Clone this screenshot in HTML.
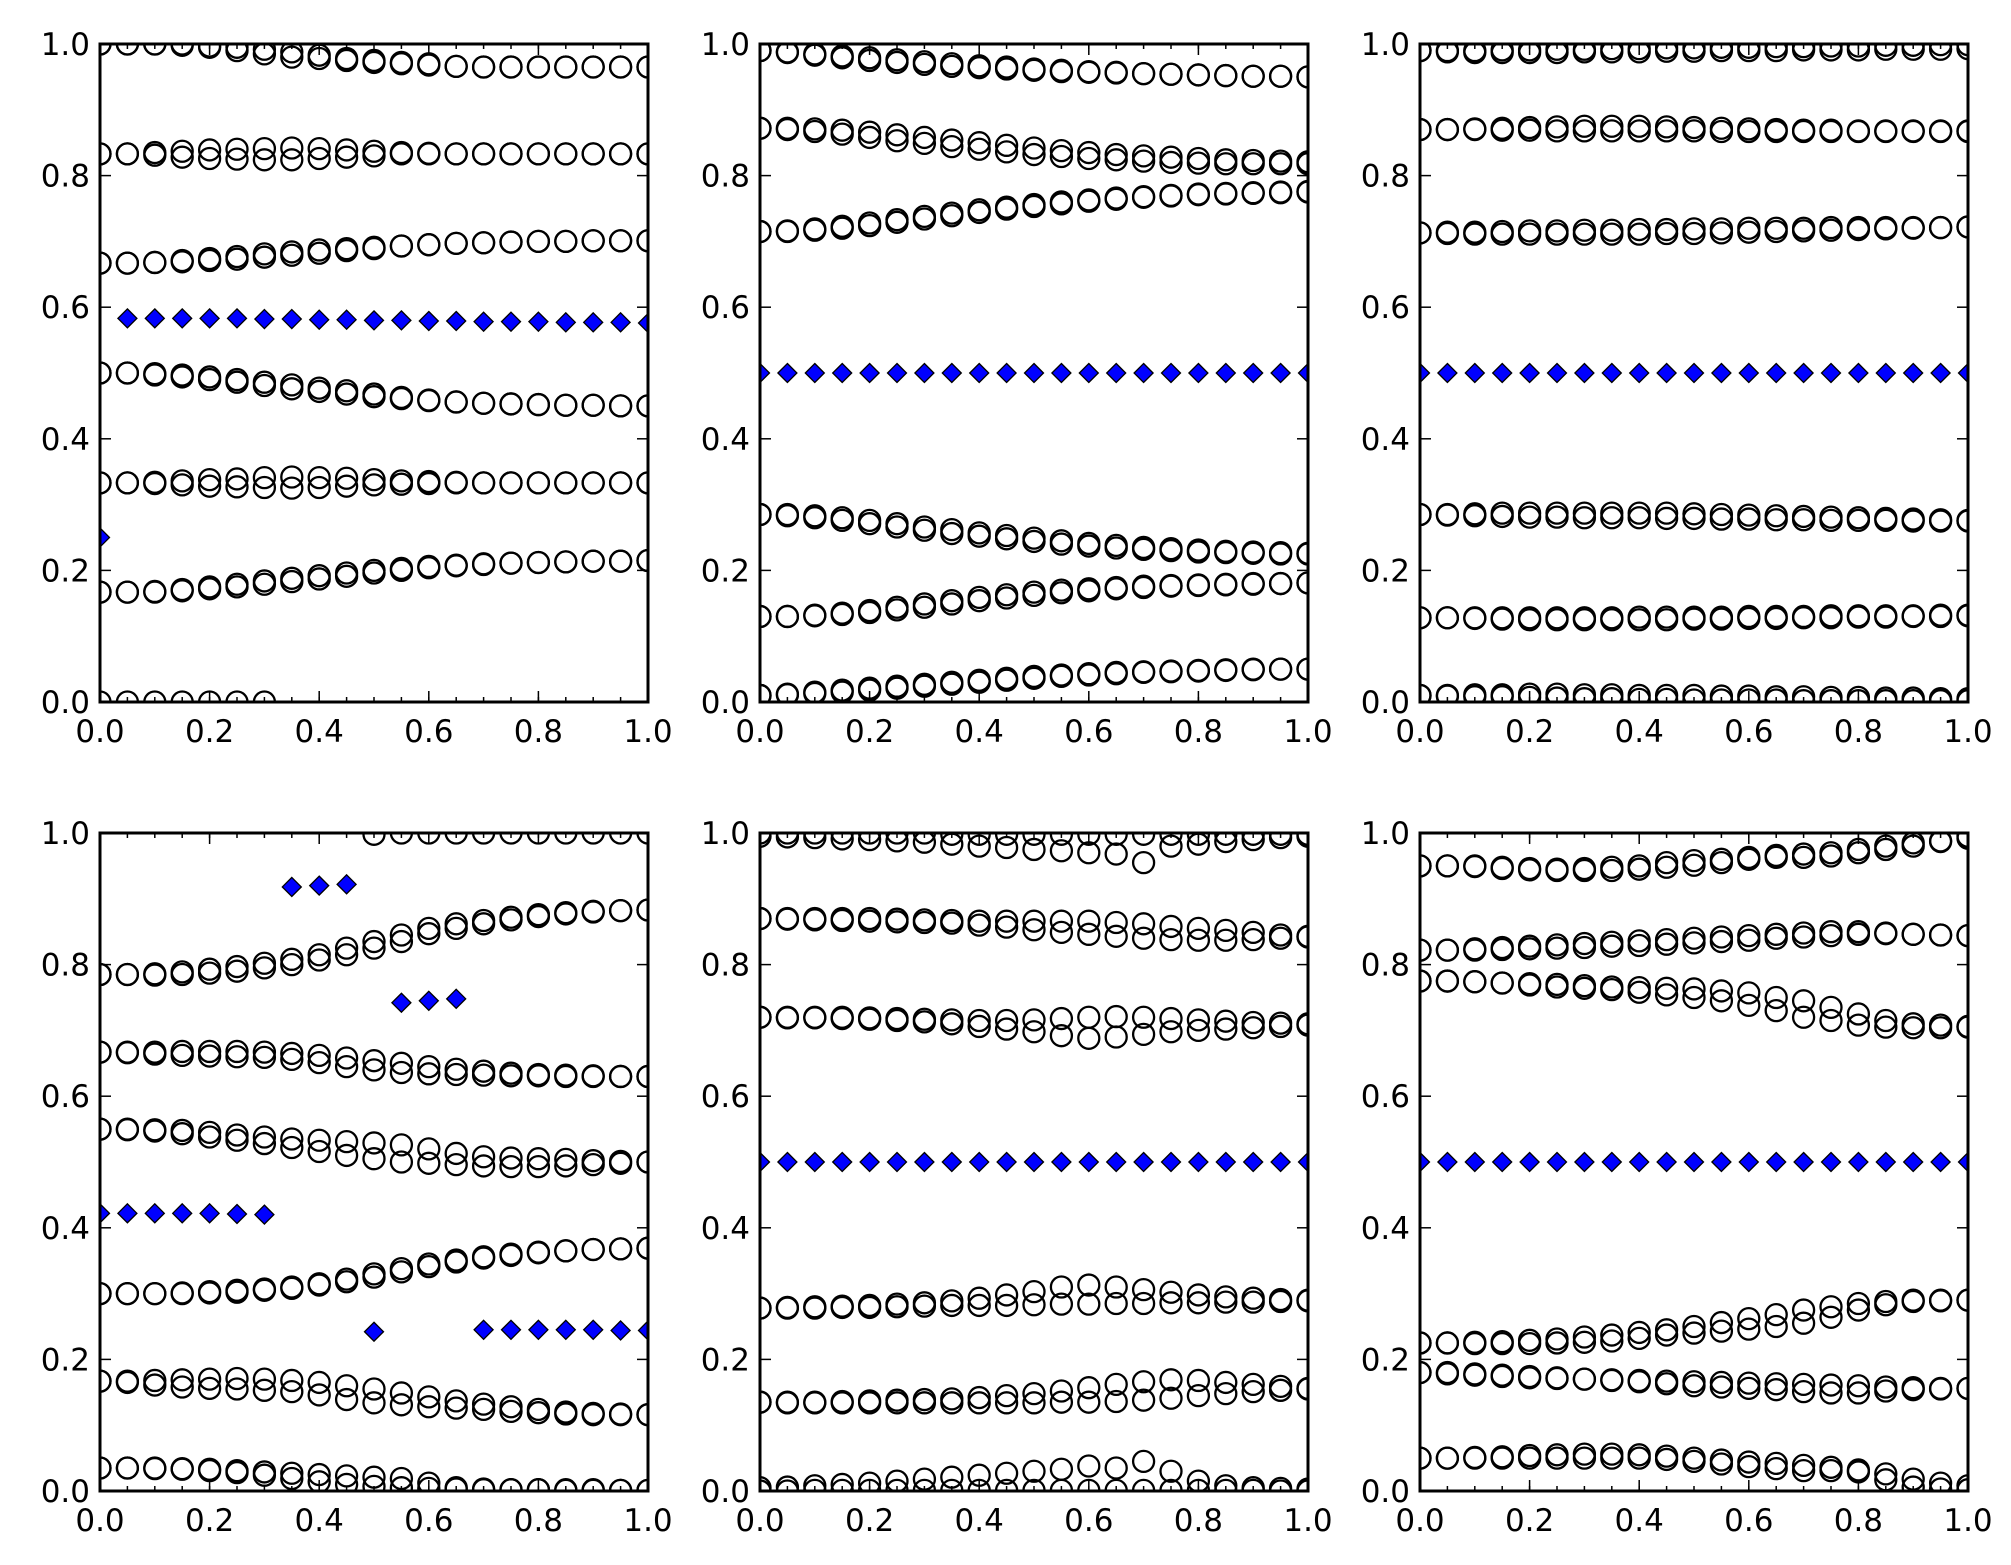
<!DOCTYPE html>
<html><head><meta charset="utf-8"><style>
html,body{margin:0;padding:0;background:#fff}
svg{display:block}
text{font-family:"DejaVu Sans","Liberation Sans",sans-serif;font-size:31px;fill:#000}
</style></head>
<body>
<svg id="fig" width="2011" height="1565" viewBox="0 0 2011 1565" xmlns="http://www.w3.org/2000/svg"></svg>
<script>
const xValues = [0,0.05,0.1,0.15,0.2,0.25,0.3,0.35,0.4,0.45,0.5,0.55,0.6,0.65,0.7,0.75,0.8,0.85,0.9,0.95,1.0];
const tickLabels = ["0.0","0.2","0.4","0.6","0.8","1.0"];
const tickValues = [0,0.2,0.4,0.6,0.8,1.0];
const N = null;

const p1Circles = [
 [1.0,1.0,1.0,.998,.995,.99,.985,.98,.978,.975,.972,.97,.968,.966,.965,.965,.965,.965,.965,.965,.965],
 [1.0,1.0,1.0,1.0,.997,.995,.992,.988,.983,.978,.975,.972,.97,.966,.965,.965,.965,.965,.965,.965,.965],
 [.833,.833,.835,.837,.839,.84,.841,.842,.841,.839,.837,.835,.834,.833,.833,.833,.833,.833,.833,.833,.833],
 [.833,.833,.831,.828,.826,.825,.824,.824,.826,.828,.83,.833,.833,.833,.833,.833,.833,.833,.833,.833,.833],
 [.667,.667,.668,.671,.674,.677,.681,.684,.687,.689,.691,.693,.695,.697,.698,.699,.7,.7,.701,.701,.701],
 [.667,.667,.668,.669,.671,.673,.676,.679,.682,.686,.689,.693,.695,.697,.698,.699,.7,.7,.701,.701,.701],
 [.5,.5,.499,.497,.494,.49,.486,.482,.477,.473,.468,.463,.459,.456,.454,.453,.452,.451,.451,.45,.45],
 [.5,.5,.497,.494,.49,.486,.481,.476,.472,.468,.464,.461,.458,.456,.454,.453,.452,.451,.451,.45,.45],
 [.333,.333,.334,.336,.338,.339,.341,.342,.341,.34,.338,.336,.335,.334,.333,.333,.333,.333,.333,.333,.333],
 [.333,.333,.332,.33,.328,.327,.326,.325,.326,.328,.33,.331,.332,.333,.333,.333,.333,.333,.333,.333,.333],
 [.167,.167,.168,.171,.175,.179,.184,.188,.192,.196,.2,.203,.206,.208,.21,.211,.212,.213,.214,.214,.215],
 [.167,.167,.167,.169,.172,.175,.179,.183,.187,.191,.196,.2,.204,.207,.209,.211,.212,.213,.214,.214,.215],
 [0,0,0,0,0,0,0,N,N,N,N,N,N,N,N,N,N,N,N,N,N]
];
const p1Diamonds = [.25,.583,.583,.583,.583,.583,.582,.582,.581,.581,.580,.580,.579,.579,.578,.578,.578,.577,.577,.577,.576];

const p2Circles = [
 [.99,.988,.985,.982,.979,.976,.973,.97,.967,.965,.962,.96,.958,.957,.955,.954,.953,.952,.951,.951,.95],
 [.99,.987,.983,.979,.975,.972,.969,.966,.964,.962,.96,.958,.957,.956,.955,.954,.953,.952,.951,.951,.95],
 [.872,.872,.871,.869,.866,.862,.858,.854,.85,.846,.842,.838,.835,.832,.83,.828,.826,.824,.823,.822,.821],
 [.872,.87,.867,.863,.858,.853,.849,.844,.84,.836,.832,.829,.826,.824,.822,.82,.819,.818,.818,.818,.818],
 [.715,.716,.719,.723,.728,.733,.738,.743,.748,.752,.756,.76,.763,.766,.768,.77,.772,.773,.774,.775,.776],
 [.715,.715,.717,.72,.724,.729,.734,.739,.744,.749,.753,.757,.761,.764,.767,.769,.771,.772,.773,.774,.775],
 [.285,.285,.283,.28,.276,.271,.266,.262,.257,.253,.249,.245,.241,.238,.235,.233,.231,.229,.228,.227,.226],
 [.285,.283,.28,.276,.271,.266,.261,.256,.252,.248,.244,.24,.237,.234,.232,.23,.228,.227,.226,.225,.225],
 [.13,.13,.132,.135,.139,.144,.149,.154,.159,.163,.167,.17,.172,.174,.176,.177,.178,.179,.18,.18,.181],
 [.13,.13,.131,.133,.136,.14,.144,.149,.154,.158,.162,.166,.169,.172,.174,.176,.177,.178,.179,.18,.181],
 [.01,.012,.015,.018,.021,.024,.027,.03,.033,.036,.039,.041,.043,.045,.046,.047,.048,.049,.05,.05,.05],
 [.01,.011,.013,.015,.018,.021,.024,.027,.03,.033,.036,.039,.041,.043,.045,.046,.047,.048,.049,.05,.05]
];
const p2Diamonds = [.5,.5,.5,.5,.5,.5,.5,.5,.5,.5,.5,.5,.5,.5,.5,.5,.5,.5,.5,.5,.5];

const p3Circles = [
 [.99,.99,.99,.991,.991,.992,.992,.993,.993,.994,.994,.995,.995,.996,.996,.997,.997,.998,.998,.999,.999],
 [.99,.988,.987,.987,.987,.987,.988,.988,.988,.989,.989,.99,.99,.99,.991,.991,.991,.992,.992,.992,.993],
 [.87,.87,.871,.872,.873,.874,.875,.875,.875,.874,.873,.872,.871,.87,.869,.869,.868,.868,.868,.868,.868],
 [.87,.87,.87,.869,.869,.868,.868,.868,.868,.868,.868,.867,.867,.867,.867,.867,.867,.867,.867,.867,.867],
 [.713,.714,.714,.715,.716,.716,.717,.717,.718,.718,.719,.719,.72,.72,.72,.721,.721,.721,.721,.721,.722],
 [.713,.712,.711,.711,.711,.711,.711,.711,.711,.712,.712,.713,.714,.715,.716,.717,.718,.719,.72,.721,.722],
 [.285,.285,.286,.287,.287,.287,.287,.287,.287,.287,.286,.285,.284,.283,.282,.281,.28,.279,.278,.277,.276],
 [.285,.284,.283,.282,.281,.281,.28,.28,.28,.279,.279,.278,.278,.277,.277,.276,.276,.276,.275,.275,.275],
 [.128,.128,.127,.126,.125,.125,.125,.125,.125,.125,.126,.126,.127,.127,.128,.128,.129,.129,.13,.13,.131],
 [.128,.128,.128,.128,.128,.128,.128,.128,.129,.129,.129,.129,.13,.13,.13,.131,.131,.131,.131,.132,.132],
 [.01,.01,.011,.011,.012,.012,.011,.011,.01,.01,.01,.009,.009,.008,.008,.007,.007,.006,.006,.005,.005],
 [.01,.009,.008,.008,.007,.006,.005,.005,.004,.004,.003,.003,.003,.003,.002,.002,.002,.002,.002,.002,.002]
];
const p3Diamonds = [.5,.5,.5,.5,.5,.5,.5,.5,.5,.5,.5,.5,.5,.5,.5,.5,.5,.5,.5,.5,.5];

const p4Circles = [
 [N,N,N,N,N,N,N,N,N,N,.998,1,1,1,1,1,1,1,1,1,1],
 [.785,.785,.786,.789,.793,.797,.802,.808,.815,.825,.835,.845,.855,.862,.867,.872,.876,.879,.881,.882,.883],
 [.785,.785,.784,.785,.787,.79,.795,.8,.807,.815,.825,.835,.847,.855,.862,.868,.873,.877,.88,.882,.883],
 [.667,.667,.667,.668,.668,.668,.667,.665,.662,.658,.654,.65,.645,.641,.638,.635,.633,.632,.631,.63,.63],
 [.667,.666,.664,.662,.661,.66,.659,.656,.651,.645,.64,.636,.634,.633,.632,.631,.631,.63,.63,.63,.63],
 [.55,.55,.549,.548,.545,.541,.538,.535,.533,.531,.529,.526,.52,.513,.508,.506,.505,.504,.502,.501,.5],
 [.55,.549,.547,.543,.538,.533,.528,.522,.516,.51,.505,.5,.498,.496,.494,.493,.493,.494,.496,.498,.5],
 [.3,.3,.3,.301,.303,.305,.307,.31,.315,.322,.33,.338,.345,.351,.356,.36,.363,.365,.367,.368,.369],
 [.3,.3,.3,.3,.301,.302,.305,.308,.313,.318,.325,.333,.341,.348,.354,.358,.362,.365,.367,.368,.369],
 [.167,.167,.168,.169,.17,.171,.17,.168,.165,.16,.155,.149,.143,.137,.132,.128,.124,.12,.118,.117,.116],
 [.167,.165,.161,.158,.156,.155,.153,.151,.146,.139,.134,.131,.128,.126,.124,.121,.119,.117,.116,.116,.116],
 [.035,.035,.035,.034,.033,.031,.029,.027,.025,.023,.021,.019,.012,.005,.003,.002,.002,.002,.002,.001,.001],
 [.035,.035,.034,.033,.031,.028,.024,.019,.014,.01,.007,.005,.004,.003,.002,.002,.002,.001,.001,.001,.001]
];
const p4Diamonds = [.422,.422,.422,.422,.422,.421,.42,.918,.92,.922,.242,.742,.745,.748,.245,.245,.245,.245,.245,.244,.244];

const p5Circles = [
 [1,1,1,1,1,1,1,.998,.998,.998,.998,.998,.998,.998,.998,.998,.998,.998,.998,.998,.998],
 [.995,.994,.993,.991,.99,.988,.986,.983,.98,.978,.975,.973,.97,.968,.955,.98,.983,.987,.99,.993,.995],
 [.87,.87,.87,.87,.87,.869,.868,.867,.866,.866,.866,.866,.866,.864,.862,.858,.855,.852,.849,.845,.843],
 [.87,.869,.868,.867,.866,.865,.864,.863,.86,.857,.853,.849,.846,.843,.84,.838,.837,.837,.838,.84,.842],
 [.72,.72,.72,.72,.719,.718,.717,.716,.715,.715,.716,.718,.72,.721,.72,.718,.716,.714,.712,.711,.71],
 [.72,.719,.719,.718,.717,.715,.713,.71,.706,.702,.698,.692,.688,.69,.694,.698,.7,.702,.704,.706,.708],
 [.278,.279,.28,.281,.282,.284,.286,.289,.293,.298,.303,.31,.313,.31,.306,.302,.298,.295,.293,.291,.29],
 [.278,.278,.278,.279,.279,.28,.281,.282,.282,.282,.283,.284,.284,.285,.285,.286,.286,.287,.287,.288,.289],
 [.135,.135,.135,.136,.137,.138,.139,.14,.142,.145,.148,.152,.157,.162,.166,.169,.168,.165,.162,.159,.156],
 [.135,.134,.134,.134,.134,.134,.134,.134,.134,.134,.134,.135,.135,.136,.138,.141,.145,.148,.151,.153,.155],
 [.005,.006,.008,.01,.012,.015,.018,.021,.024,.027,.03,.033,.038,.035,.045,.03,.015,.008,.005,.004,.003],
 [0,0,.001,.001,.001,.001,.001,.001,.001,.001,.001,.001,.001,.001,.001,.001,.001,.001,.001,0,0]
];
const p5Diamonds = [.5,.5,.5,.5,.5,.5,.5,.5,.5,.5,.5,.5,.5,.5,.5,.5,.5,.5,.5,.5,.5];

const p6Circles = [
 [.95,.95,.95,.948,.946,.945,.946,.948,.95,.955,.958,.96,.963,.966,.968,.97,.975,.98,.985,.988,.995],
 [.95,.95,.949,.946,.944,.943,.943,.943,.945,.948,.951,.955,.96,.963,.963,.965,.97,.975,.98,.987,.992],
 [.822,.822,.824,.826,.828,.83,.832,.834,.836,.838,.84,.842,.844,.846,.848,.85,.85,.848,.846,.845,.844],
 [.822,.822,.822,.823,.824,.825,.826,.828,.829,.831,.833,.835,.837,.84,.842,.844,.846,.847,.846,.845,.844],
 [.775,.775,.774,.772,.771,.77,.768,.766,.765,.764,.763,.76,.757,.75,.745,.735,.725,.715,.71,.708,.706],
 [.775,.775,.774,.772,.769,.766,.764,.762,.758,.754,.75,.745,.738,.73,.72,.715,.708,.705,.704,.704,.705],
 [.225,.225,.226,.227,.229,.231,.234,.237,.241,.245,.25,.256,.262,.268,.275,.28,.285,.288,.29,.29,.29],
 [.225,.225,.224,.224,.224,.225,.226,.228,.232,.237,.24,.243,.246,.25,.255,.264,.275,.283,.288,.289,.29],
 [.18,.18,.178,.176,.174,.172,.17,.169,.168,.167,.166,.165,.164,.163,.162,.161,.16,.158,.157,.156,.156],
 [.18,.178,.176,.174,.172,.171,.17,.168,.166,.163,.16,.158,.156,.154,.151,.149,.149,.152,.154,.155,.156],
 [.05,.05,.051,.052,.054,.055,.056,.056,.055,.053,.05,.047,.044,.042,.039,.036,.032,.026,.018,.012,.008],
 [.05,.05,.05,.05,.05,.05,.05,.05,.05,.048,.045,.041,.037,.034,.031,.031,.029,.017,.006,.003,.002]
];
const p6Diamonds = [.5,.5,.5,.5,.5,.5,.5,.5,.5,.5,.5,.5,.5,.5,.5,.5,.5,.5,.5,.5,.5];

const panelCircles = [p1Circles,p2Circles,p3Circles,p4Circles,p5Circles,p6Circles];
const panelDiamonds = [p1Diamonds,p2Diamonds,p3Diamonds,p4Diamonds,p5Diamonds,p6Diamonds];

const NS = "http://www.w3.org/2000/svg";
const fig = document.getElementById('fig');
const colL = [100, 760, 1420], rowT = [44, 833], PW = 548, PH = 658;

function mk(tag, attrs, parent){
  const e = document.createElementNS(NS, tag);
  for (const k in attrs) e.setAttribute(k, attrs[k]);
  parent.appendChild(e);
  return e;
}

for (let p = 0; p < 6; p++) {
  const L = colL[p % 3], T = rowT[Math.floor(p / 3)];
  const sx = v => L + v * PW;
  const sy = v => T + PH - v * PH;
  const g = mk('g', {}, fig);
  
  
  const clipId = 'clip' + p;
  const cp = mk('clipPath', {id: clipId}, g);
  mk('rect', {x: L, y: T, width: PW, height: PH}, cp);
  const marks = mk('g', {'clip-path': 'url(#' + clipId + ')'}, g);
  
  
  panelCircles[p].forEach((ser, si) => {
    ser.forEach((v, i) => {
      if (v === null) return;
      const c = mk('circle', {cx: sx(xValues[i]), cy: sy(v), r: 10.5, fill: 'none', stroke: '#000', 'stroke-width': 2.3}, marks);
      
      
    });
  });
  panelDiamonds[p].forEach((v, i) => {
    if (v === null) return;
    const x = sx(xValues[i]), y = sy(v), d = 9.5;
    const m = mk('polygon', {points: `${x},${y-d} ${x+d},${y} ${x},${y+d} ${x-d},${y}`, fill: '#0000ff', stroke: '#000', 'stroke-width': 1.3}, marks);
    
    
  });
  const tk = mk('g', {stroke: '#000', 'stroke-width': 1.5}, g);
  
  
  tickValues.forEach(v => {
    mk('line', {x1: sx(v), y1: T + PH, x2: sx(v), y2: T + PH - 11}, tk);
    mk('line', {x1: sx(v), y1: T, x2: sx(v), y2: T + 11}, tk);
    mk('line', {x1: L, y1: sy(v), x2: L + 11, y2: sy(v)}, tk);
    mk('line', {x1: L + PW, y1: sy(v), x2: L + PW - 11, y2: sy(v)}, tk);
  });
  xValues.forEach(v => {
    mk('line', {x1: sx(v), y1: T + PH, x2: sx(v), y2: T + PH - 5}, tk);
    mk('line', {x1: sx(v), y1: T, x2: sx(v), y2: T + 5}, tk);
  });
  const fr = mk('rect', {x: L, y: T, width: PW, height: PH, fill: 'none', stroke: '#000', 'stroke-width': 3}, g);
  
  
  tickLabels.forEach((lab, i) => {
    const t1 = mk('text', {x: sx(tickValues[i]), y: T + PH + 40, 'text-anchor': 'middle'}, g);
    t1.textContent = lab;
    
    
    const t2 = mk('text', {x: L - 10, y: sy(tickValues[i]) + 11, 'text-anchor': 'end'}, g);
    t2.textContent = lab;
    
    
  });
}
</script>
</body></html>
